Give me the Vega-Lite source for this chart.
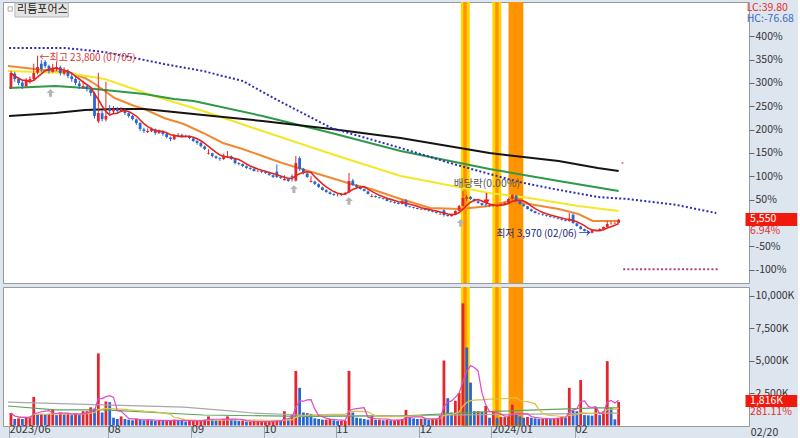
{
"$schema": "https://vega.github.io/schema/vega-lite/v6.json",
"background": "#dde5ef",
"padding": {"left": 2, "top": 1, "right": 0, "bottom": 0},
"spacing": 2,
"config": {"view": {"fill": "white", "stroke": "#9a9a9a"}, "font": "Noto Sans CJK KR", "axis": {"labelOverlap": false, "labelFlush": false}},
"datasets": {
"candles": [
{"i":0,"o":20300,"h":22100,"l":20100,"c":21870,"v":960000},
{"i":1,"o":21800,"h":22000,"l":20900,"c":21200,"v":500000},
{"i":2,"o":21200,"h":21400,"l":20500,"c":20760,"v":550000},
{"i":3,"o":20800,"h":21000,"l":20100,"c":20420,"v":500000},
{"i":4,"o":20400,"h":21300,"l":20300,"c":20980,"v":600000},
{"i":5,"o":21000,"h":21500,"l":20700,"c":21200,"v":700000},
{"i":6,"o":21200,"h":22900,"l":21000,"c":21870,"v":2200000},
{"i":7,"o":21900,"h":23800,"l":21700,"c":22540,"v":900000},
{"i":8,"o":22900,"h":23300,"l":22000,"c":22320,"v":900000},
{"i":9,"o":23100,"h":23300,"l":22400,"c":22650,"v":850000},
{"i":10,"o":22650,"h":22800,"l":21800,"c":22090,"v":900000},
{"i":11,"o":22000,"h":22900,"l":21900,"c":22320,"v":1250000},
{"i":12,"o":22300,"h":23100,"l":22100,"c":22540,"v":800000},
{"i":13,"o":22500,"h":22700,"l":21600,"c":21870,"v":1000000},
{"i":14,"o":21800,"h":22500,"l":21600,"c":22090,"v":850000},
{"i":15,"o":22100,"h":22300,"l":21300,"c":21540,"v":900000},
{"i":16,"o":21500,"h":21800,"l":20900,"c":21200,"v":800000},
{"i":17,"o":21200,"h":21400,"l":20500,"c":20760,"v":950000},
{"i":18,"o":20700,"h":21000,"l":20100,"c":20420,"v":800000},
{"i":19,"o":20300,"h":21000,"l":20100,"c":20420,"v":1100000},
{"i":20,"o":20400,"h":20600,"l":19800,"c":20090,"v":1100000},
{"i":21,"o":20000,"h":20300,"l":19300,"c":19650,"v":1400000},
{"i":22,"o":19600,"h":19800,"l":16800,"c":17100,"v":1300000},
{"i":23,"o":16500,"h":21900,"l":16300,"c":17420,"v":5550000},
{"i":24,"o":17400,"h":17700,"l":16500,"c":16750,"v":1000000},
{"i":25,"o":16700,"h":20900,"l":16500,"c":17090,"v":1850000},
{"i":26,"o":17900,"h":18300,"l":17300,"c":17650,"v":1800000},
{"i":27,"o":17600,"h":18200,"l":17400,"c":17870,"v":600000},
{"i":28,"o":17900,"h":18100,"l":17400,"c":17650,"v":500000},
{"i":29,"o":17600,"h":18100,"l":17500,"c":17870,"v":700000},
{"i":30,"o":17800,"h":17900,"l":17200,"c":17420,"v":500000},
{"i":31,"o":17400,"h":17500,"l":16900,"c":17090,"v":450000},
{"i":32,"o":17100,"h":17200,"l":16600,"c":16750,"v":400000},
{"i":33,"o":16700,"h":16800,"l":16100,"c":16310,"v":500000},
{"i":34,"o":16300,"h":16400,"l":15400,"c":15640,"v":450000},
{"i":35,"o":15600,"h":15800,"l":15200,"c":15420,"v":400000},
{"i":36,"o":15300,"h":15700,"l":15200,"c":15420,"v":450000},
{"i":37,"o":15400,"h":15800,"l":15300,"c":15640,"v":400000},
{"i":38,"o":15600,"h":15700,"l":15000,"c":15200,"v":350000},
{"i":39,"o":15200,"h":15600,"l":15100,"c":15420,"v":400000},
{"i":40,"o":15400,"h":15500,"l":14900,"c":15090,"v":350000},
{"i":41,"o":15100,"h":15200,"l":14600,"c":14750,"v":350000},
{"i":42,"o":14700,"h":14800,"l":14300,"c":14530,"v":400000},
{"i":43,"o":14500,"h":15000,"l":14400,"c":14860,"v":450000},
{"i":44,"o":14850,"h":15200,"l":14800,"c":14980,"v":400000},
{"i":45,"o":15000,"h":15100,"l":14700,"c":14860,"v":350000},
{"i":46,"o":14800,"h":15000,"l":14700,"c":14860,"v":300000},
{"i":47,"o":14850,"h":14900,"l":14500,"c":14640,"v":350000},
{"i":48,"o":14600,"h":14700,"l":14200,"c":14310,"v":350000},
{"i":49,"o":14300,"h":14400,"l":13900,"c":14090,"v":400000},
{"i":50,"o":14100,"h":14200,"l":13600,"c":13750,"v":400000},
{"i":51,"o":13700,"h":13800,"l":13300,"c":13420,"v":450000},
{"i":52,"o":12900,"h":13400,"l":12800,"c":12980,"v":700000},
{"i":53,"o":12950,"h":13000,"l":12500,"c":12640,"v":450000},
{"i":54,"o":12600,"h":12700,"l":12300,"c":12420,"v":400000},
{"i":55,"o":12400,"h":12500,"l":12100,"c":12310,"v":400000},
{"i":56,"o":12300,"h":12900,"l":12200,"c":12640,"v":500000},
{"i":57,"o":12600,"h":13200,"l":12400,"c":12640,"v":700000},
{"i":58,"o":12600,"h":12700,"l":12200,"c":12310,"v":450000},
{"i":59,"o":12300,"h":12400,"l":11700,"c":11860,"v":400000},
{"i":60,"o":11850,"h":11950,"l":11600,"c":11750,"v":350000},
{"i":61,"o":11750,"h":11800,"l":11400,"c":11530,"v":350000},
{"i":62,"o":11500,"h":11600,"l":11200,"c":11310,"v":300000},
{"i":63,"o":11300,"h":11400,"l":11100,"c":11200,"v":300000},
{"i":64,"o":11200,"h":11300,"l":10900,"c":10970,"v":300000},
{"i":65,"o":10950,"h":11100,"l":10850,"c":10970,"v":300000},
{"i":66,"o":10950,"h":11050,"l":10750,"c":10860,"v":300000},
{"i":67,"o":10850,"h":10950,"l":10650,"c":10750,"v":300000},
{"i":68,"o":10700,"h":10800,"l":10450,"c":10530,"v":300000},
{"i":69,"o":10500,"h":10600,"l":10200,"c":10310,"v":350000},
{"i":70,"o":10900,"h":11700,"l":10200,"c":10310,"v":400000},
{"i":71,"o":10300,"h":10400,"l":10100,"c":10190,"v":350000},
{"i":72,"o":9950,"h":10500,"l":9900,"c":10080,"v":1100000},
{"i":73,"o":10050,"h":10100,"l":9750,"c":9860,"v":450000},
{"i":74,"o":10400,"h":10600,"l":9800,"c":10310,"v":800000},
{"i":75,"o":9900,"h":12640,"l":9800,"c":11860,"v":4200000},
{"i":76,"o":12400,"h":12600,"l":11000,"c":11200,"v":2900000},
{"i":77,"o":11200,"h":11300,"l":10600,"c":10750,"v":1000000},
{"i":78,"o":10700,"h":10800,"l":10200,"c":10310,"v":950000},
{"i":79,"o":9750,"h":10400,"l":9700,"c":9860,"v":900000},
{"i":80,"o":9800,"h":9900,"l":9400,"c":9530,"v":550000},
{"i":81,"o":9500,"h":9600,"l":9100,"c":9190,"v":500000},
{"i":82,"o":9150,"h":9250,"l":8800,"c":8860,"v":450000},
{"i":83,"o":8850,"h":8950,"l":8550,"c":8640,"v":450000},
{"i":84,"o":8600,"h":8700,"l":8350,"c":8420,"v":500000},
{"i":85,"o":8400,"h":8500,"l":8200,"c":8300,"v":400000},
{"i":86,"o":8300,"h":8500,"l":8150,"c":8300,"v":350000},
{"i":87,"o":8300,"h":8500,"l":8200,"c":8420,"v":350000},
{"i":88,"o":8400,"h":8650,"l":8300,"c":8530,"v":350000},
{"i":89,"o":8600,"h":10750,"l":8500,"c":9860,"v":4200000},
{"i":90,"o":9900,"h":10100,"l":9300,"c":9420,"v":1000000},
{"i":91,"o":9400,"h":9500,"l":9100,"c":9190,"v":600000},
{"i":92,"o":9150,"h":9250,"l":8900,"c":8970,"v":550000},
{"i":93,"o":8950,"h":9000,"l":8700,"c":8750,"v":500000},
{"i":94,"o":8700,"h":8800,"l":8350,"c":8420,"v":450000},
{"i":95,"o":8100,"h":8400,"l":8050,"c":8190,"v":750000},
{"i":96,"o":8180,"h":8250,"l":8000,"c":8080,"v":450000},
{"i":97,"o":8050,"h":8100,"l":7900,"c":7970,"v":450000},
{"i":98,"o":7950,"h":8000,"l":7800,"c":7860,"v":400000},
{"i":99,"o":7850,"h":7900,"l":7600,"c":7640,"v":450000},
{"i":100,"o":7600,"h":7700,"l":7450,"c":7530,"v":400000},
{"i":101,"o":7500,"h":7600,"l":7350,"c":7410,"v":400000},
{"i":102,"o":7400,"h":7500,"l":7250,"c":7300,"v":450000},
{"i":103,"o":7300,"h":7800,"l":7250,"c":7640,"v":500000},
{"i":104,"o":7700,"h":7860,"l":6950,"c":7080,"v":1200000},
{"i":105,"o":7050,"h":7100,"l":6900,"c":6970,"v":600000},
{"i":106,"o":6950,"h":7000,"l":6800,"c":6860,"v":550000},
{"i":107,"o":6850,"h":6900,"l":6700,"c":6750,"v":500000},
{"i":108,"o":6700,"h":6850,"l":6650,"c":6750,"v":520000},
{"i":109,"o":6750,"h":6800,"l":6600,"c":6640,"v":500000},
{"i":110,"o":6600,"h":6650,"l":6480,"c":6520,"v":450000},
{"i":111,"o":6500,"h":6550,"l":6380,"c":6410,"v":500000},
{"i":112,"o":6400,"h":6500,"l":6250,"c":6300,"v":550000},
{"i":113,"o":6150,"h":6400,"l":6100,"c":6190,"v":800000},
{"i":114,"o":6600,"h":6700,"l":5900,"c":6080,"v":5000000},
{"i":115,"o":6080,"h":6150,"l":5900,"c":5970,"v":2100000},
{"i":116,"o":5950,"h":6200,"l":5900,"c":6080,"v":1000000},
{"i":117,"o":6100,"h":6600,"l":6050,"c":6520,"v":1900000},
{"i":118,"o":6550,"h":7200,"l":6500,"c":7080,"v":2500000},
{"i":119,"o":7100,"h":8750,"l":7000,"c":7970,"v":9400000},
{"i":120,"o":7900,"h":8300,"l":7600,"c":8080,"v":6000000},
{"i":121,"o":8100,"h":8200,"l":7750,"c":7860,"v":3300000},
{"i":122,"o":7850,"h":7900,"l":7550,"c":7640,"v":1100000},
{"i":123,"o":7600,"h":7700,"l":7350,"c":7410,"v":1100000},
{"i":124,"o":7400,"h":7450,"l":7100,"c":7190,"v":1050000},
{"i":125,"o":7100,"h":7300,"l":7000,"c":7080,"v":1500000},
{"i":126,"o":7100,"h":7250,"l":7000,"c":7190,"v":600000},
{"i":127,"o":7200,"h":7300,"l":7000,"c":7080,"v":1100000},
{"i":128,"o":7050,"h":7250,"l":7000,"c":7190,"v":600000},
{"i":129,"o":7200,"h":7350,"l":7100,"c":7300,"v":650000},
{"i":130,"o":7300,"h":7500,"l":7250,"c":7410,"v":650000},
{"i":131,"o":7400,"h":7950,"l":7350,"c":7860,"v":700000},
{"i":132,"o":7900,"h":8410,"l":7800,"c":8300,"v":1600000},
{"i":133,"o":8250,"h":8300,"l":7550,"c":7640,"v":900000},
{"i":134,"o":7600,"h":7700,"l":7200,"c":7300,"v":700000},
{"i":135,"o":7250,"h":7350,"l":7000,"c":7080,"v":600000},
{"i":136,"o":7050,"h":7100,"l":6700,"c":6750,"v":650000},
{"i":137,"o":6700,"h":6800,"l":6450,"c":6520,"v":600000},
{"i":138,"o":6500,"h":6550,"l":6250,"c":6300,"v":550000},
{"i":139,"o":6250,"h":6350,"l":6100,"c":6190,"v":500000},
{"i":140,"o":6150,"h":6250,"l":6000,"c":6080,"v":500000},
{"i":141,"o":6050,"h":6100,"l":5900,"c":5970,"v":550000},
{"i":142,"o":5950,"h":6000,"l":5800,"c":5860,"v":500000},
{"i":143,"o":5800,"h":5900,"l":5700,"c":5750,"v":550000},
{"i":144,"o":5700,"h":5800,"l":5600,"c":5640,"v":600000},
{"i":145,"o":5600,"h":5700,"l":5480,"c":5520,"v":650000},
{"i":146,"o":5500,"h":5600,"l":5380,"c":5410,"v":600000},
{"i":147,"o":5400,"h":6300,"l":5350,"c":5640,"v":2900000},
{"i":148,"o":6100,"h":6250,"l":5100,"c":5190,"v":1150000},
{"i":149,"o":5150,"h":5200,"l":4800,"c":4860,"v":1100000},
{"i":150,"o":4800,"h":4900,"l":4450,"c":4520,"v":3500000},
{"i":151,"o":4500,"h":4550,"l":4250,"c":4300,"v":800000},
{"i":152,"o":4250,"h":4300,"l":3970,"c":4080,"v":780000},
{"i":153,"o":4100,"h":4450,"l":4050,"c":4410,"v":760000},
{"i":154,"o":4400,"h":4500,"l":4300,"c":4410,"v":1400000},
{"i":155,"o":4400,"h":4600,"l":4350,"c":4520,"v":800000},
{"i":156,"o":4500,"h":4800,"l":4450,"c":4750,"v":1100000},
{"i":157,"o":4750,"h":5400,"l":4700,"c":5080,"v":4950000},
{"i":158,"o":5080,"h":5350,"l":5000,"c":5100,"v":1350000},
{"i":159,"o":5150,"h":5300,"l":5100,"c":5190,"v":476000},
{"i":160,"o":5200,"h":5650,"l":5180,"c":5550,"v":1816000}
],
"lines": [
{"s":"o","i":-0.8,"p":22650},{"s":"o","i":15.6,"p":21870},{"s":"o","i":19.5,"p":21310},{"s":"o","i":22.1,"p":20650},{"s":"o","i":27.3,"p":19090},{"s":"o","i":32.5,"p":18200},{"s":"o","i":35.1,"p":17870},{"s":"o","i":40.3,"p":16870},{"s":"o","i":45.5,"p":16200},{"s":"o","i":50.6,"p":15200},{"s":"o","i":55.8,"p":14090},{"s":"o","i":61,"p":13420},{"s":"o","i":66.2,"p":12640},{"s":"o","i":71.4,"p":11860},{"s":"o","i":76.6,"p":11200},{"s":"o","i":81.8,"p":10530},{"s":"o","i":87,"p":9860},{"s":"o","i":89.6,"p":9530},{"s":"o","i":94.8,"p":8970},{"s":"o","i":102.6,"p":7860},{"s":"o","i":110.4,"p":6860},{"s":"o","i":118.2,"p":6750},{"s":"o","i":120.8,"p":6860},{"s":"o","i":126,"p":7080},{"s":"o","i":131.2,"p":7640},{"s":"o","i":136.4,"p":7300},{"s":"o","i":144.2,"p":6750},{"s":"o","i":149.4,"p":6190},{"s":"o","i":153.2,"p":5410},{"s":"o","i":160,"p":5410},
{"s":"y","i":-0.8,"p":22090},{"s":"y","i":15.1,"p":21870},{"s":"y","i":24.7,"p":21200},{"s":"y","i":37.7,"p":19310},{"s":"y","i":50.6,"p":17650},{"s":"y","i":66.2,"p":15420},{"s":"y","i":84.4,"p":12860},{"s":"y","i":102.6,"p":10420},{"s":"y","i":126,"p":8530},{"s":"y","i":136.4,"p":7970},{"s":"y","i":149.4,"p":7080},{"s":"y","i":160,"p":6520},
{"s":"g","i":-0.5,"p":20200},{"s":"g","i":11.7,"p":20420},{"s":"g","i":19.5,"p":20200},{"s":"g","i":27.3,"p":19870},{"s":"g","i":35.1,"p":19530},{"s":"g","i":42.9,"p":18980},{"s":"g","i":48.1,"p":18760},{"s":"g","i":66.2,"p":17090},{"s":"g","i":84.4,"p":15200},{"s":"g","i":102.6,"p":13200},{"s":"g","i":126,"p":11200},{"s":"g","i":144.2,"p":9860},{"s":"g","i":160,"p":8750},
{"s":"b","i":-0.5,"p":17090},{"s":"b","i":11.7,"p":17420},{"s":"b","i":19.5,"p":17760},{"s":"b","i":27.3,"p":17870},{"s":"b","i":35.1,"p":17870},{"s":"b","i":42.9,"p":17530},{"s":"b","i":53.2,"p":17090},{"s":"b","i":66.2,"p":16530},{"s":"b","i":84.4,"p":15640},{"s":"b","i":102.6,"p":14640},{"s":"b","i":126,"p":12970},{"s":"b","i":144.2,"p":12080},{"s":"b","i":154.5,"p":11310},{"s":"b","i":160,"p":10970}
],
"dots": [
{"s":"d","i":-0.5,"p":24650},{"s":"d","i":14.3,"p":24650},{"s":"d","i":24.7,"p":24200},{"s":"d","i":32.5,"p":23540},{"s":"d","i":40.3,"p":22870},{"s":"d","i":50.6,"p":22090},{"s":"d","i":61,"p":20980},{"s":"d","i":70.6,"p":18760},{"s":"d","i":84.4,"p":15750},{"s":"d","i":102.6,"p":13530},{"s":"d","i":115.6,"p":11860},{"s":"d","i":126,"p":10640},{"s":"d","i":133.8,"p":9750},{"s":"d","i":141.6,"p":9080},{"s":"d","i":154.5,"p":8080},{"s":"d","i":162.3,"p":7860},{"s":"d","i":175.3,"p":7190},{"s":"d","i":185.7,"p":6300},
{"s":"z","i":161.2,"p":60},{"s":"z","i":186.2,"p":60}
],
"vlines": [
{"s":"gray","i":-0.8,"v":1800000},{"s":"gray","i":22.1,"v":1600000},{"s":"gray","i":45.5,"v":1420000},{"s":"gray","i":58.4,"v":1100000},{"s":"gray","i":63.6,"v":960000},{"s":"gray","i":76.6,"v":810000},{"s":"gray","i":102.6,"v":750000},{"s":"gray","i":128.6,"v":850000},{"s":"gray","i":160,"v":950000},
{"s":"green","i":-0.8,"v":1500000},{"s":"green","i":11.7,"v":1200000},{"s":"green","i":24.7,"v":1200000},{"s":"green","i":50.6,"v":810000},{"s":"green","i":76.6,"v":700000},{"s":"green","i":102.6,"v":730000},{"s":"green","i":128.6,"v":1100000},{"s":"green","i":154.5,"v":1350000},{"s":"green","i":160,"v":1350000}
],
"bands": [
{"a":118.45,"b":120.8,"k":"y"},{"a":119.1,"b":120.0,"k":"o"},{"a":126.75,"b":129.1,"k":"y"},{"a":127.5,"b":128.4,"k":"o"},{"a":131.0,"b":134.9,"k":"o"}
],
"marks": [
{"i":10.4,"p":19650},{"i":74.5,"p":8970},{"i":89,"p":7640},{"i":118.4,"p":5190}
]
},
"resolve": {"scale": {"x": "independent", "y": "independent"}},
"vconcat": [
{
"width": 746, "height": 281,
"resolve": {"scale": {"color": "independent"}},
"layer": [
{"data": {"name": "bands"}, "mark": {"type": "rect"},
 "encoding": {"x": {"field": "a", "type": "quantitative", "scale": {"domain": [-0.78, 193], "nice": false, "zero": false}, "axis": null}, "x2": {"field": "b"},
 "color": {"field": "k", "type": "nominal", "scale": {"domain": ["y", "o"], "range": ["#ffd400", "#ff9400"]}, "legend": null}}},
{"data": {"name": "lines"}, "mark": {"type": "line", "strokeWidth": 2, "clip": true},
 "encoding": {"x": {"field": "i", "type": "quantitative", "scale": {"domain": [-0.78, 193], "nice": false, "zero": false}, "axis": null},
 "y": {"field": "p", "type": "quantitative", "scale": {"domain": [-1482, 29765], "nice": false, "zero": false},
  "axis": {"orient": "right", "title": null, "values": [0, 2595, 7785, 10380, 12975, 15570, 18165, 20760, 23355, 25950], "tickCount": 30, "labelExpr": "round(datum.value/51.9 - 100) + '%'", "grid": false, "domain": false, "ticks": true, "tickColor": "#666", "tickSize": 5, "labels": true, "labelColor": "#333", "labelFontSize": 10.5, "labelPadding": 1, "labelOverlap": false, "labelFont": "Noto Sans CJK KR"}},
 "color": {"field": "s", "type": "nominal", "scale": {"domain": ["b", "g", "y", "o"], "range": ["#141414", "#2e9a48", "#f3e828", "#f08a32"]}, "legend": null}}},
{"data": {"name": "dots"}, "mark": {"type": "line", "strokeWidth": 2, "strokeDash": [2, 2.2], "clip": true},
 "encoding": {"x": {"field": "i", "type": "quantitative", "scale": {"domain": [-0.78, 193], "nice": false, "zero": false}, "axis": null},
 "y": {"field": "p", "type": "quantitative"},
 "color": {"field": "s", "type": "nominal", "scale": {"domain": ["d", "z"], "range": ["#2e2eb2", "#b8407a"]}, "legend": null}}},
{"data": {"name": "candles"}, "mark": {"type": "rule", "strokeWidth": 1},
 "encoding": {"x": {"field": "i", "type": "quantitative", "axis": null},
 "y": {"field": "l", "type": "quantitative"}, "y2": {"field": "h"},
 "color": {"condition": {"test": "datum.c >= datum.o", "value": "#e3262e"}, "value": "#2a66d2"}}},
{"data": {"name": "candles"}, "mark": {"type": "bar", "size": 2.8},
 "encoding": {"x": {"field": "i", "type": "quantitative", "axis": null},
 "y": {"field": "o", "type": "quantitative"}, "y2": {"field": "c"},
 "color": {"condition": {"test": "datum.c >= datum.o", "value": "#e3262e"}, "value": "#2a66d2"}}},
{"data": {"name": "candles"}, "transform": [{"window": [{"op": "mean", "field": "c", "as": "m5"}], "frame": [-4, 0], "sort": [{"field": "i"}]}],
 "mark": {"type": "line", "strokeWidth": 1.6, "color": "#e4231c"},
 "encoding": {"x": {"field": "i", "type": "quantitative", "axis": null},
 "y": {"field": "m5", "type": "quantitative"}}},
{"data": {"name": "marks"}, "mark": {"type": "point", "shape": "M0,-1L1,0L0.4,0L0.4,1L-0.4,1L-0.4,0L-1,0Z", "filled": true, "size": 60, "color": "#b4b4b4", "opacity": 1},
 "encoding": {"x": {"field": "i", "type": "quantitative", "axis": null},
 "y": {"field": "p", "type": "quantitative"}}},
{"data": {"values": [{"i": 161, "p": 11860}]}, "mark": {"type": "point", "filled": true, "size": 5, "color": "#e04060"},
 "encoding": {"x": {"field": "i", "type": "quantitative", "axis": null},
 "y": {"field": "p", "type": "quantitative"}}},
{"data": {"values": [{"i": 125.2, "a": 8526, "b": 7550}]}, "mark": {"type": "rule", "color": "#e3262e", "strokeWidth": 1.5},
 "encoding": {"x": {"field": "i", "type": "quantitative", "axis": null},
 "y": {"field": "a", "type": "quantitative"}, "y2": {"field": "b"}}},
{"data": {"values": [{"i": 125.2, "p": 7500}]}, "mark": {"type": "point", "shape": "triangle-down", "filled": true, "size": 40, "color": "#e3262e", "opacity": 1},
 "encoding": {"x": {"field": "i", "type": "quantitative", "axis": null},
 "y": {"field": "p", "type": "quantitative"}}},
{"data": {"values": [{"a": 1.05, "b": 15.1, "p1": 29650, "p2": 28100}]}, "mark": {"type": "rect", "fill": "#e4e4e4", "stroke": "#b8b8b8", "strokeWidth": 1},
 "encoding": {"x": {"field": "a", "type": "quantitative", "axis": null}, "x2": {"field": "b"},
 "y": {"field": "p1", "type": "quantitative"}, "y2": {"field": "p2"}}},
{"data": {"values": [{"i": -0.2, "p": 28987}]}, "mark": {"type": "point", "shape": "square", "size": 18, "color": "#888", "filled": false, "strokeWidth": 1},
 "encoding": {"x": {"field": "i", "type": "quantitative", "axis": null},
 "y": {"field": "p", "type": "quantitative"}}},
{"data": {"values": [{"i": 1.6, "p": 28850, "t": "리튬포어스"}]}, "mark": {"type": "text", "align": "left", "baseline": "middle", "fontSize": 11, "color": "#222"},
 "encoding": {"x": {"field": "i", "type": "quantitative", "axis": null},
 "y": {"field": "p", "type": "quantitative"}, "text": {"field": "t"}}},
{"data": {"values": [{"i": 7.5, "p": 23500, "t": "←최고 23,800 (07/05)"}]}, "mark": {"type": "text", "align": "left", "baseline": "middle", "fontSize": 10, "color": "#d8383a"},
 "encoding": {"x": {"field": "i", "type": "quantitative", "axis": null},
 "y": {"field": "p", "type": "quantitative"}, "text": {"field": "t"}}},
{"data": {"values": [{"i": 149.0, "p": 3970, "t": "최저 3,970 (02/06)"}]}, "mark": {"type": "text", "align": "right", "baseline": "middle", "fontSize": 10, "color": "#22287a"},
 "encoding": {"x": {"field": "i", "type": "quantitative", "axis": null},
 "y": {"field": "p", "type": "quantitative"}, "text": {"field": "t"}}},
{"data": {"values": [{"i": 149.4, "p": 3970, "t": "→"}]}, "mark": {"type": "text", "align": "left", "baseline": "middle", "fontSize": 12, "color": "#2040e0"},
 "encoding": {"x": {"field": "i", "type": "quantitative", "axis": null},
 "y": {"field": "p", "type": "quantitative"}, "text": {"field": "t"}}},
{"data": {"values": [{"i": 125.3, "p": 9530, "t": "배당락(0.00%)"}]}, "mark": {"type": "text", "align": "center", "baseline": "middle", "fontSize": 10.5, "color": "#555"},
 "encoding": {"x": {"field": "i", "type": "quantitative", "axis": null},
 "y": {"field": "p", "type": "quantitative"}, "text": {"field": "t"}}},
{"data": {"values": [{"a": 193.4, "b": 207, "p1": 6300, "p2": 4860}]}, "mark": {"type": "rect", "fill": "#f01a0c"},
 "encoding": {"x": {"field": "a", "type": "quantitative", "axis": null}, "x2": {"field": "b"},
 "y": {"field": "p1", "type": "quantitative"}, "y2": {"field": "p2"}}},
{"data": {"values": [{"i": 194.6, "p": 5600, "t": "5,550", "k": "w"}, {"i": 194.6, "p": 4330, "t": "6.94%", "k": "r"}, {"i": 193.7, "p": 29050, "t": "LC:39.80", "k": "r"}, {"i": 193.7, "p": 27830, "t": "HC:-76.68", "k": "b"}]},
 "mark": {"type": "text", "align": "left", "baseline": "middle", "fontSize": 10.5},
 "encoding": {"x": {"field": "i", "type": "quantitative", "axis": null},
 "y": {"field": "p", "type": "quantitative"}, "text": {"field": "t"},
 "color": {"field": "k", "type": "nominal", "scale": {"domain": ["w", "r", "b"], "range": ["#ffffff", "#e0302c", "#3a6cc4"]}, "legend": null}}}
]
},
{
"width": 746, "height": 139,
"resolve": {"scale": {"color": "independent"}},
"layer": [
{"data": {"name": "bands"}, "mark": {"type": "rect"},
 "encoding": {"x": {"field": "a", "type": "quantitative", "scale": {"domain": [-0.78, 193], "nice": false, "zero": false},
  "axis": {"title": null, "values": [-0.5, 25.5, 47.5, 66.5, 85.5, 107.5, 126.5, 148.5], "tickCount": 30, "labelExpr": "datum.value < 0 ? '2023/06' : datum.value < 26 ? '08' : datum.value < 48 ? '09' : datum.value < 67 ? '10' : datum.value < 86 ? '11' : datum.value < 108 ? '12' : datum.value < 127 ? '2024/01' : '02'", "grid": false, "domain": false, "ticks": true, "tickSize": 15, "tickColor": "#9aa4b0", "labels": true, "labelPadding": -18, "labelAlign": "left", "labelBaseline": "top", "labelDx": 2, "labelFontSize": 11, "labelColor": "#333", "labelFlush": false, "labelBound": false, "labelOverlap": false}},
 "x2": {"field": "b"},
 "color": {"field": "k", "type": "nominal", "scale": {"domain": ["y", "o"], "range": ["#ffd400", "#ff9400"]}, "legend": null}}},
{"data": {"name": "candles"}, "transform": [{"window": [{"op": "lag", "field": "v", "as": "pv"}], "sort": [{"field": "i"}]}],
 "mark": {"type": "bar", "size": 2.8},
 "encoding": {"x": {"field": "i", "type": "quantitative"},
 "y": {"field": "v", "type": "quantitative", "scale": {"domain": [-38000, 10654000], "nice": false, "zero": false},
  "axis": {"orient": "right", "title": null, "values": [2500000, 5000000, 7500000, 10000000], "tickCount": 30, "labelExpr": "format(datum.value/1000, ',') + 'K'", "grid": false, "domain": false, "ticks": true, "tickColor": "#666", "tickSize": 5, "labels": true, "labelColor": "#333", "labelFontSize": 10.5, "labelPadding": 1, "labelOverlap": false}},
 "y2": {"datum": 0},
 "color": {"condition": {"test": "datum.pv == null || datum.v >= datum.pv", "value": "#e3262e"}, "value": "#2a66d2"}}},
{"data": {"name": "vlines"}, "mark": {"type": "line", "strokeWidth": 1.2, "clip": true},
 "encoding": {"x": {"field": "i", "type": "quantitative"},
 "y": {"field": "v", "type": "quantitative"},
 "color": {"field": "s", "type": "nominal", "scale": {"domain": ["gray", "green"], "range": ["#a8a8a8", "#58a858"]}, "legend": null}}},
{"data": {"name": "candles"}, "transform": [{"window": [{"op": "mean", "field": "v", "as": "vm"}], "frame": [-19, 0], "sort": [{"field": "i"}]}],
 "mark": {"type": "line", "strokeWidth": 1.2, "color": "#d8c248", "clip": true},
 "encoding": {"x": {"field": "i", "type": "quantitative"},
 "y": {"field": "vm", "type": "quantitative"}}},
{"data": {"name": "candles"}, "transform": [{"window": [{"op": "mean", "field": "v", "as": "vm"}], "frame": [-4, 0], "sort": [{"field": "i"}]}],
 "mark": {"type": "line", "strokeWidth": 1.2, "color": "#e048c8", "clip": true},
 "encoding": {"x": {"field": "i", "type": "quantitative"},
 "y": {"field": "vm", "type": "quantitative"}}},
{"data": {"values": [{"a": 193.4, "b": 207, "v1": 2346000, "v2": 1423000}]}, "mark": {"type": "rect", "fill": "#f01a0c"},
 "encoding": {"x": {"field": "a", "type": "quantitative"}, "x2": {"field": "b"},
 "y": {"field": "v1", "type": "quantitative"}, "y2": {"field": "v2"}}},
{"data": {"values": [{"i": 194.6, "v": 1900000, "t": "1,816K", "k": "w"}, {"i": 194.6, "v": 1020000, "t": "281.11%", "k": "r"}, {"i": 194.8, "v": -560000, "t": "02/20", "k": "g"}]},
 "mark": {"type": "text", "align": "left", "baseline": "middle", "fontSize": 10.5},
 "encoding": {"x": {"field": "i", "type": "quantitative"},
 "y": {"field": "v", "type": "quantitative"}, "text": {"field": "t"},
 "color": {"field": "k", "type": "nominal", "scale": {"domain": ["w", "r", "g"], "range": ["#ffffff", "#e0302c", "#333333"]}, "legend": null}}}
]
}
]
}
